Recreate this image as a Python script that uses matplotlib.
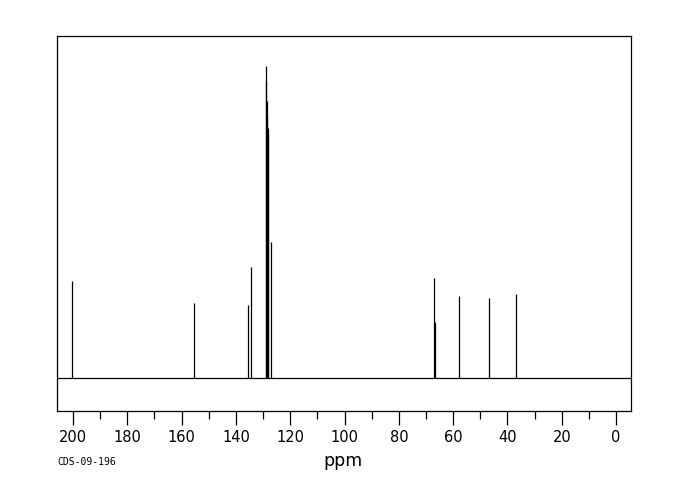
import matplotlib
matplotlib.use("Agg")
import matplotlib.pyplot as plt
from matplotlib.ticker import MultipleLocator

# Peak positions (ppm) and relative intensities
ppm = [200.4, 155.4, 135.4, 134.5, 128.9, 128.75, 128.6, 128.45, 128.3, 128.1, 127.2,
       66.9, 66.6, 57.9, 46.7, 37.0]
intensity = [31.0, 24.0, 23.4, 35.6, 100.0, 95.0, 88.7, 84.0, 80.0, 78.0, 43.5,
             32.0, 18.0, 26.3, 25.7, 27.0]
xticks = [200, 180, 160, 140, 120, 100, 80, 60, 40, 20, 0]
sample_id = "CDS-09-196"

fig = plt.figure(figsize=(6.8, 5.0), dpi=100)
ax = fig.add_axes([57/680, 89/500, (631-57)/680, (411-36)/500])

ax.axhline(0, color="black", lw=0.9)
ax.vlines(ppm, 0, intensity, color="black", lw=0.9)

ax.set_xlim(205.9, -5.5)
ax.set_ylim(-10.6, 109.6)
ax.set_yticks([])
ax.xaxis.set_major_locator(MultipleLocator(20))
ax.xaxis.set_minor_locator(MultipleLocator(10))
ax.set_xticks(xticks)
ax.tick_params(axis="x", which="major", direction="out", length=10, width=0.9,
               labelsize=10.5, pad=4)
ax.tick_params(axis="x", which="minor", direction="out", length=6, width=0.9)
for s in ax.spines.values():
    s.set_linewidth(0.9)

fig.text(343/680, 1 - 461/500, "ppm", ha="center", va="center", fontsize=12.5)
fig.text(57/680, 1 - 462/500, sample_id, ha="left", va="center", fontsize=7,
         family="DejaVu Sans Mono")

fig.savefig("out.png", dpi=100)
